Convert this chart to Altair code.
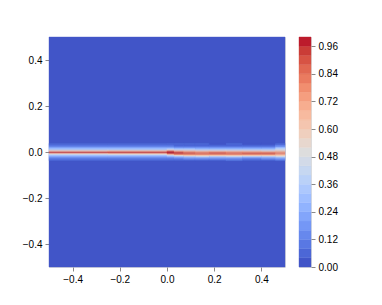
import altair as alt
import pandas as pd
import numpy as np

# ---- data ----
x_edges = [-0.5, -0.25, 0.0, 0.03, 0.07, 0.12, 0.18, 0.25, 0.32, 0.40, 0.46, 0.5]
y_centers = [-0.035, -0.03, -0.025, -0.02, -0.015, -0.01, -0.005, 0.0, 0.005, 0.01, 0.015, 0.02, 0.025, 0.03, 0.035]
# one profile per x segment, listed from bottom (y=-0.035) to top (y=0.035)
profiles = [
    [0.05, 0.09, 0.14, 0.20, 0.28, 0.42, 0.66, 0.93, 0.66, 0.44, 0.30, 0.20, 0.14, 0.09, 0.05],
    [0.05, 0.09, 0.14, 0.21, 0.30, 0.44, 0.68, 0.94, 0.68, 0.45, 0.31, 0.21, 0.14, 0.09, 0.05],
    [0.05, 0.09, 0.15, 0.24, 0.38, 0.60, 0.88, 0.98, 0.86, 0.55, 0.33, 0.20, 0.13, 0.08, 0.04],
    [0.06, 0.11, 0.18, 0.30, 0.50, 0.76, 0.90, 0.88, 0.70, 0.46, 0.28, 0.18, 0.11, 0.07, 0.04],
    [0.07, 0.12, 0.20, 0.34, 0.56, 0.78, 0.84, 0.80, 0.64, 0.44, 0.28, 0.18, 0.11, 0.07, 0.04],
    [0.07, 0.13, 0.22, 0.36, 0.58, 0.76, 0.82, 0.78, 0.62, 0.42, 0.26, 0.17, 0.10, 0.06, 0.04],
    [0.07, 0.12, 0.20, 0.34, 0.58, 0.78, 0.84, 0.80, 0.62, 0.42, 0.26, 0.16, 0.10, 0.06, 0.03],
    [0.08, 0.14, 0.22, 0.36, 0.58, 0.76, 0.80, 0.76, 0.60, 0.42, 0.27, 0.17, 0.11, 0.07, 0.04],
    [0.06, 0.11, 0.19, 0.32, 0.56, 0.78, 0.84, 0.78, 0.60, 0.40, 0.25, 0.16, 0.10, 0.06, 0.03],
    [0.07, 0.13, 0.21, 0.35, 0.58, 0.78, 0.84, 0.76, 0.58, 0.40, 0.25, 0.16, 0.10, 0.06, 0.03],
    [0.10, 0.16, 0.26, 0.40, 0.56, 0.70, 0.76, 0.72, 0.62, 0.50, 0.38, 0.28, 0.18, 0.12, 0.07],
]
levels = [round(0.04 * i, 2) for i in range(26)]
cbar_ticks = [0.0, 0.12, 0.24, 0.36, 0.48, 0.60, 0.72, 0.84, 0.96]

# ---- coolwarm colours for the filled levels ----
cw = [(59,76,192),(68,90,204),(77,104,215),(87,117,225),(98,130,234),(108,142,241),
      (119,154,247),(130,165,251),(141,176,254),(152,185,255),(163,194,255),(174,201,253),
      (184,208,249),(194,213,244),(204,217,238),(213,219,230),(221,221,221),(229,216,209),
      (236,211,197),(241,204,185),(245,196,173),(247,187,160),(247,177,148),(247,166,135),
      (244,154,123),(241,141,111),(236,127,99),(229,112,88),(222,96,77),(213,80,66),
      (203,62,56),(192,40,47),(180,4,38)]
cw = np.array(cw, dtype=float)
pos = np.linspace(0, 1, len(cw))
def cmap(t):
    return "#%02x%02x%02x" % tuple(int(round(np.interp(t, pos, cw[:, k]))) for k in range(3))
n = len(levels) - 1
colors = [cmap((levels[i] + levels[i + 1]) / 2) for i in range(n)]
thresholds = levels[1:-1]
color_scale = alt.Scale(type="threshold", domain=thresholds, range=colors)

# ---- table ----
dy = 0.005
rows = [dict(x0=-0.5, x1=0.5, y0=-0.5, y1=0.5, v=0.0)]
for i, prof in enumerate(profiles):
    for yc, v in zip(y_centers, prof):
        rows.append(dict(x0=x_edges[i], x1=x_edges[i + 1], y0=yc - dy / 2, y1=yc + dy / 2, v=v))
df = pd.DataFrame(rows)

fmt_minus = "replace(format(datum.value, '.1f'), '-', '\u2212')"

main = alt.Chart(df).mark_rect(strokeWidth=0.4).encode(
    x=alt.X("x0:Q", scale=alt.Scale(domain=[-0.5, 0.5], nice=False, zero=False),
            axis=alt.Axis(values=[-0.4, -0.2, 0.0, 0.2, 0.4], labelExpr=fmt_minus, title=None,
                          grid=False, tickSize=4, labelPadding=3, domain=False)),
    x2="x1:Q",
    y=alt.Y("y0:Q", scale=alt.Scale(domain=[-0.5, 0.5], nice=False, zero=False),
            axis=alt.Axis(values=[-0.4, -0.2, 0.0, 0.2, 0.4], labelExpr=fmt_minus, title=None,
                          grid=False, tickSize=4, labelPadding=3, domain=False,
                          minExtent=35, maxExtent=35)),
    y2="y1:Q",
    color=alt.Color("v:Q", scale=color_scale, legend=None),
    stroke=alt.Color("v:Q", scale=color_scale, legend=None),
).properties(width=236, height=230)

cb = pd.DataFrame({"lo": levels[:-1], "hi": levels[1:], "mid": [l + 0.02 for l in levels[:-1]]})
cbar = alt.Chart(cb).mark_rect(strokeWidth=0.4).encode(
    x=alt.value(0), x2=alt.value(12),
    y=alt.Y("lo:Q", scale=alt.Scale(domain=[0, 1], nice=False),
            axis=alt.Axis(orient="right", values=cbar_ticks, format=".2f", title=None,
                          grid=False, tickSize=4, labelPadding=3, domain=False)),
    y2="hi:Q",
    color=alt.Color("mid:Q", scale=color_scale, legend=None),
    stroke=alt.Color("mid:Q", scale=color_scale, legend=None),
).properties(width=12, height=230)

chart = alt.hconcat(main, cbar, spacing=12).properties(
    padding={"left": 5, "top": 28, "right": 5, "bottom": 5}
).configure_view(stroke="black", strokeWidth=1).configure_axis(
    labelFont="DejaVu Sans", labelFontSize=10, labelColor="black",
    tickColor="black", tickWidth=1
).configure(background="white")

chart.save("out.html", embed_options={"renderer": "svg", "actions": False})
